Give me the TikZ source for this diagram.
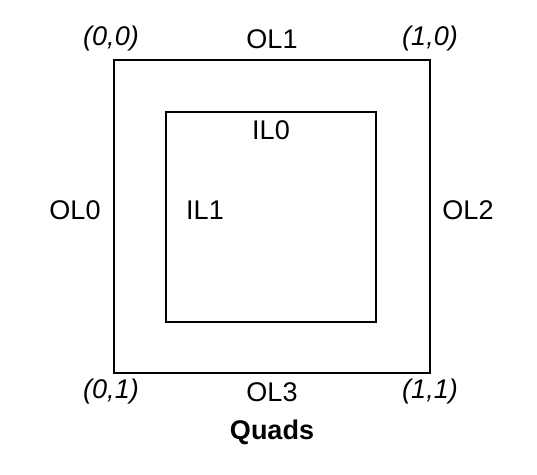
\documentclass[tikz,border=0pt]{standalone}
\usepackage{fontspec}
\setmainfont{Liberation Sans}
\begin{document}
\begin{tikzpicture}[x=1pt,y=-1pt,
  boxline/.style={draw=black,line width=2.8pt},
  lbl/.style={font=\fontsize{27}{32}\selectfont,inner sep=0pt,anchor=center},
  corner/.style={lbl,font=\fontsize{27}{32}\selectfont\itshape}]
\useasboundingbox (0,0) rectangle (537,474);
\coordinate (o1) at (114,60);
\coordinate (o2) at (430,373);
\coordinate (i1) at (166,112);
\coordinate (i2) at (376,322);
\draw[boxline] (o1) rectangle (o2);
\draw[boxline] (i1) rectangle (i2);
\node[corner] (c00) at (111,39) {(0,0)};
\node[corner] (c10) at (430,39) {(1,0)};
\node[corner] (c01) at (111,392) {(0,1)};
\node[corner] (c11) at (430,392) {(1,1)};
\node[lbl] (ol1) at (272,39) {OL1};
\node[lbl] (ol0) at (75,210) {OL0};
\node[lbl] (ol2) at (468,210) {OL2};
\node[lbl] (ol3) at (272,392) {OL3};
\node[lbl] (il0) at (271,130) {IL0};
\node[lbl] (il1) at (205,210) {IL1};
\node[lbl,font=\fontsize{27}{32}\selectfont\bfseries] (q) at (272,432) {Quads};
\end{tikzpicture}
\end{document}
